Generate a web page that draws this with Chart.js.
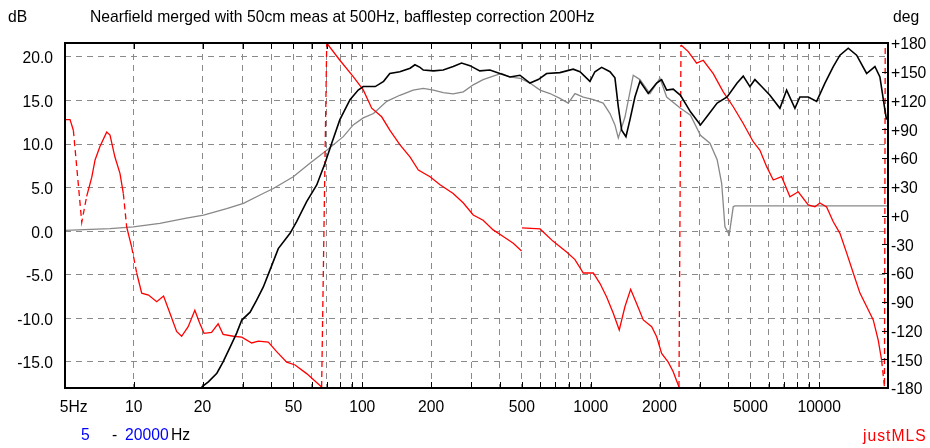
<!DOCTYPE html>
<html><head><meta charset="utf-8">
<script src="https://cdn.jsdelivr.net/npm/chart.js@4"></script>
<style>
html,body{margin:0;padding:0;background:#fff;}
#wrap{position:relative;width:930px;height:448px;overflow:hidden;background:#fff;}
#c{position:absolute;left:0;top:0;}
.t{position:absolute;font-family:"Liberation Sans",Arial,sans-serif;font-size:15.7px;line-height:1;white-space:nowrap;color:#000;}
.b{color:#0000ff;}
</style></head><body>
<div id="wrap">
<canvas id="c" width="930" height="448"></canvas>
<div class="t" style="left:8px;top:9px">dB</div>
<div class="t" style="left:90px;top:9px">Nearfield merged with 50cm meas at 500Hz, bafflestep correction 200Hz</div>
<div class="t" style="left:893px;top:9px">deg</div>
<div class="t b" style="left:81px;top:427px">5</div>
<div class="t" style="left:112px;top:427px">-</div>
<div class="t b" style="left:125px;top:427px">20000</div>
<div class="t" style="left:171px;top:427px">Hz</div>
<div class="t" style="left:863px;top:428px;color:#ff0000;letter-spacing:1px">justMLS</div>
</div>
<script>
// ---- data ----
const mergedFreq = [19.8,21.2,23.1,24.6,26.4,28.2,29.7,32.3,34.5,36.9,39.4,42.9,48.3,51.6,57.1,63.2,68.7,73.5,79.8,88.4,96,101,114,124,132,146,162,170,179,185,205,226,250,272,296,327,362,400,443,490,542,589,641,733,838,897,992,1043,1116,1214,1276,1320,1366,1426,1485,1561,1642,1785,1943,2043,2149,2296,2471,2732,3021,3232,3575,3953,4372,4650,4974,5230,5597,6085,6729,7199,7828,8229,8953,9744,10593,11520,12323,13395,14578,16125,17530,18434,19394,19700];
const mergedDb = [-17.9,-17.3,-16.3,-15.0,-13.3,-11.7,-10.2,-9.3,-7.9,-6.4,-4.5,-2.0,-0.25,1.1,3.4,5.3,7.8,10.1,12.8,15.1,16.2,16.6,16.6,17.2,18.1,18.3,18.7,19.1,18.8,18.5,18.4,18.5,18.9,19.3,19.0,18.4,18.5,18.1,17.7,17.9,17.0,17.4,18.1,18.2,18.6,18.3,17.2,18.3,18.8,18.3,17.6,14.3,11.6,10.85,12.8,15.4,17.2,15.8,17.0,17.4,16.2,16.3,15.6,13.7,12.2,13.2,14.7,15.4,17.0,17.8,16.6,17.4,16.6,15.6,14.1,16.2,14.1,15.4,15.4,14.9,17.0,18.9,20.2,21.0,20.2,18.1,18.9,17.7,13.9,12.8];

const nearFreq = [5,7.87,9.95,13.0,17.0,20.2,25.5,30.2,35.7,40.8,49.9,59.0,69.9,82.6,91.3,101,112,128,146,167,185,205,226,250,277,306,338,374,407,443,490,542,600,663,733,797,853,928,1026,1134,1214,1276,1320,1412,1535,1642,1816,2009,2149,2471,2732,3021,3325,3575,3741,3867,4038,4204,4277,20000];
const nearDb = [0.1,0.3,0.5,0.9,1.5,1.85,2.6,3.2,4.15,4.9,6.25,7.8,9.3,10.85,12.2,13.0,13.5,14.9,15.6,16.2,16.4,16.2,15.9,15.75,16.0,16.8,17.4,17.8,18.1,17.7,17.55,17.0,16.2,15.8,15.25,14.7,15.8,15.4,15.1,14.7,13.5,12.2,10.7,13.1,17.9,17.4,15.8,17.55,15.4,14.1,13.3,11.0,10.1,8.2,5.5,0.5,-0.4,2.8,2.9,2.9];

const phaseFreq = [5,5.26,5.44,5.92,6.22,6.55,6.77,7.11,7.61,7.87,8.27,8.70,9.00,9.31,9.79,10.3,10.83,11.6,12.6,13.5,14.4,15.4,16.2,17.3,18.5,19.4,20.3,21.9,23.4,24.6,27.3,29.7,32.8,35.1,38.8,42.2,46.7,50.8,57.1,66.4,69.9,79.8,91.3,101,110,121.6,132,146,162,176,198,219,250,277,306,338,374,414,458,498,499,500,600,685,784,853,928,1026,1098,1174,1255,1333,1412,1495,1589,1698,1848,1943,2043,2184,2296,2433,2483,2672,2907,3107,3437,3801,4204,4650,5143,5503,5888,6292,6845,7445,8095,8953,9579,10071,10774,11520,12323,13182,14091,15074,16125,17236,18123,18753,19300,19450];
const phaseDeg = [100,100,89,-7,20,40,58,72,87,84,61,44,23,-12,-33,-60,-81,-83,-90,-84,-102,-121,-126,-116,-99,-112,-123,-122,-113,-124,-126,-127,-133,-131,-132,-142,-153,-156,-165,-179,180,162,145,131,112,103,89,74,61,47.5,40.5,32,23,13,0.5,-5,-15,-22,-29,-37,null,-13,-14,-27,-38,-46,-60,-60,-71,-85,-102,-119.5,-95,-77,-92,-109,-116,-126.5,-144,-153,-163,-179,178,171,159,162,148,129,113.5,96,77,68,51,37,40.5,19.6,24.8,11,9,13,9,-6.5,-18.6,-39,-60,-81,-95,-109,-130,-151,-179,180];

const xGridVals = [5,10,20,30,40,50,60,70,80,90,100,200,300,400,500,600,700,800,900,1000,2000,3000,4000,5000,6000,7000,8000,9000,10000,20000];
const xLabelVals = [5,10,20,50,100,200,500,1000,2000,5000,10000];
const xLabelText = ['5Hz','10','20','50','100','200','500','1000','2000','5000','10000'];
const dbTicks = [-15,-10,-5,0,5,10,15,20];
const degTicks = [-180,-150,-120,-90,-60,-30,0,30,60,90,120,150,180];

// ---- chart ----
const pts = (xs, ys) => xs.map((x, i) => ({x: x, y: ys[i]}));
const FONT = {family: '"Liberation Sans", Arial, sans-serif', size: 15.7};
const GRID = '#8a8a8a';

const frame = {
  id: 'frame',
  afterDatasetsDraw(chart) {
    const {ctx, chartArea: a, scales} = chart;
    ctx.save();
    ctx.setLineDash([]);
    ctx.lineWidth = 1;
    ctx.strokeStyle = '#000';
    ctx.beginPath();
    xGridVals.forEach(v => {
      const px = Math.round(scales.x.getPixelForValue(v)) + 0.5;
      ctx.moveTo(px, a.top); ctx.lineTo(px, a.top + 6);
      ctx.moveTo(px, a.bottom); ctx.lineTo(px, a.bottom - 6);
    });
    degTicks.forEach(v => {
      const py = Math.round(scales.y2.getPixelForValue(v)) + 0.5;
      ctx.moveTo(a.right, py); ctx.lineTo(a.right - 6, py);
    });
    ctx.stroke();
    ctx.lineWidth = 2;
    ctx.strokeRect(a.left, a.top, a.right - a.left, a.bottom - a.top);
    ctx.restore();
  }
};

new Chart(document.getElementById('c'), {
  type: 'line',
  data: {
    datasets: [
      {data: pts(mergedFreq, mergedDb), yAxisID: 'y', borderColor: '#000000', borderWidth: 1.6, pointRadius: 0, tension: 0, fill: false},
      {data: pts(phaseFreq, phaseDeg), yAxisID: 'y2', borderColor: '#ff0000', borderWidth: 1.3, pointRadius: 0, tension: 0, fill: false, spanGaps: false,
       segment: {borderDash: c => Math.abs(c.p1.parsed.y - c.p0.parsed.y) > 25 ? [6, 4] : undefined}},
      {data: pts(nearFreq, nearDb), yAxisID: 'y', borderColor: '#888888', borderWidth: 1.3, pointRadius: 0, tension: 0, fill: false}
    ]
  },
  options: {
    responsive: false,
    animation: false,
    layout: {padding: {top: 43, left: 0, right: 0, bottom: 0}},
    plugins: {legend: {display: false}, tooltip: {enabled: false}, title: {display: false}},
    scales: {
      x: {
        type: 'logarithmic', position: 'bottom', min: 5, max: 20000,
        afterBuildTicks: s => { s.ticks = xGridVals.map(v => ({value: v})); },
        afterFit: s => { s.height = 60; },
        ticks: {
          autoSkip: false, maxRotation: 0, minRotation: 0, padding: 10, color: '#000', font: FONT,
          callback: v => { const i = xLabelVals.indexOf(v); if (i < 0) return ''; return (v === 5 ? '    ' : '') + xLabelText[i]; }
        },
        grid: {color: c => (c.tick && (c.tick.value === 5 || c.tick.value === 20000)) ? 'rgba(0,0,0,0)' : GRID, lineWidth: 1, drawTicks: false},
        border: {display: false, dash: [6, 5]}
      },
      y: {
        type: 'linear', position: 'left', min: -18, max: 21.6,
        afterBuildTicks: s => { s.ticks = dbTicks.map(v => ({value: v})); },
        afterFit: s => { s.width = 65; },
        ticks: {padding: 12, labelOffset: 2, color: '#000', font: FONT, callback: v => v.toFixed(1)},
        grid: {color: GRID, lineWidth: 1, drawTicks: false},
        border: {display: false, dash: [6, 5]}
      },
      y2: {
        type: 'linear', position: 'right', min: -180, max: 180,
        afterBuildTicks: s => { s.ticks = degTicks.map(v => ({value: v})); },
        afterFit: s => { s.width = 42; },
        ticks: {padding: 3, labelOffset: 2, color: '#000', font: FONT, callback: v => (v >= 0 ? '+' : '') + v},
        grid: {drawOnChartArea: false, drawTicks: false},
        border: {display: false}
      }
    }
  },
  plugins: [frame]
});
</script>
</body></html>
